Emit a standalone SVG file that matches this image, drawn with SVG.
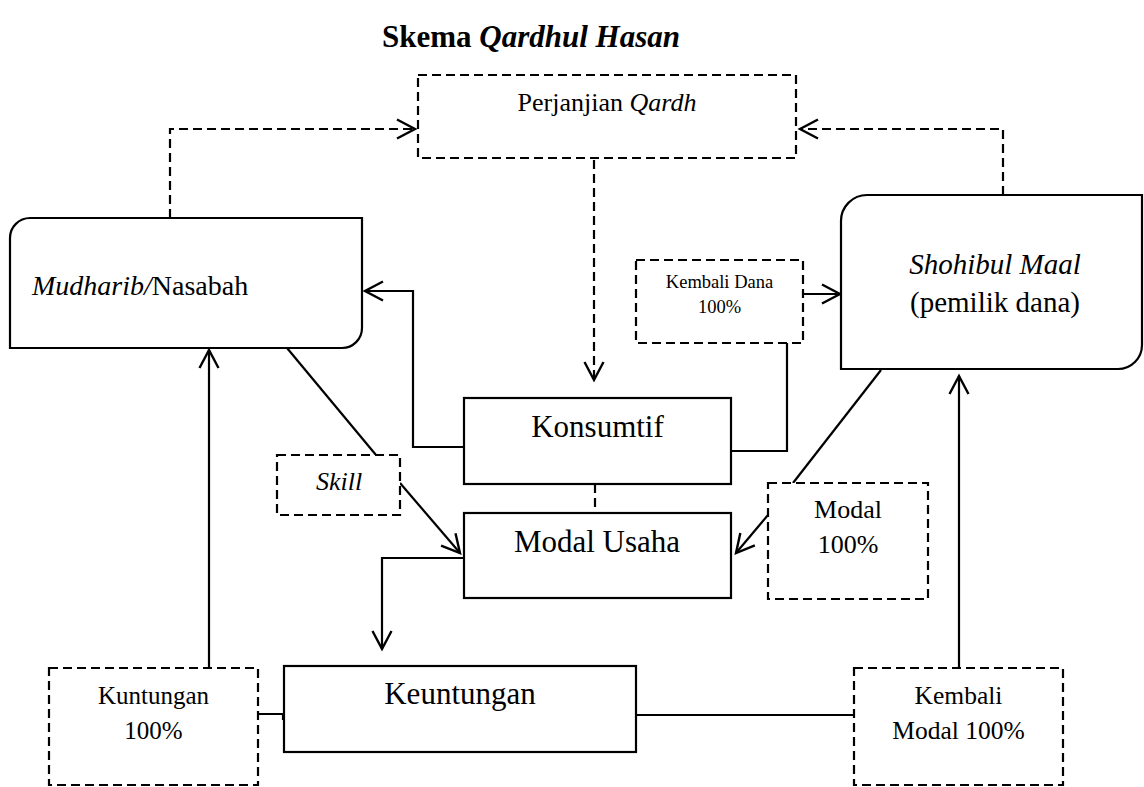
<svg xmlns="http://www.w3.org/2000/svg" width="1144" height="787" viewBox="0 0 1144 787">
<style>
text{font-family:"Liberation Serif","Times New Roman",serif;fill:#000}
.box{fill:#fff;stroke:#000;stroke-width:2.2}
.dbox{fill:#fff;stroke:#000;stroke-width:2.2;stroke-dasharray:9 5}
.ln{fill:none;stroke:#000;stroke-width:2.2}
.dl{fill:none;stroke:#000;stroke-width:2.2;stroke-dasharray:9 5}
.it{font-style:italic}
</style>
<defs>
<marker id="arr" viewBox="-22 -12 26 24" refX="0" refY="0" markerWidth="26" markerHeight="24" markerUnits="userSpaceOnUse" orient="auto">
<path d="M-18,-9.5 L0,0 L-18,9.5" fill="none" stroke="#000" stroke-width="2.4"/>
</marker>
</defs>
<rect width="1144" height="787" fill="#fff"/>
<text x="531" y="47" font-size="31" font-weight="bold" text-anchor="middle">Skema <tspan class="it">Qardhul Hasan</tspan></text>
<g id="connectors">
<path class="dl" d="M170,218 L170,129 L415,129" marker-end="url(#arr)"/>
<path class="dl" d="M1003,195 L1003,129 L800,129" marker-end="url(#arr)"/>
<path class="dl" d="M594,160 L594,380" marker-end="url(#arr)"/>
<path class="dl" d="M595,484 L595,513"/>
<path class="ln" d="M464,447 L413,447 L413,291 L365,291" marker-end="url(#arr)"/>
<path class="ln" d="M731,451 L787,451 L787,343"/>
<path class="ln" d="M803,294 L840,294" marker-end="url(#arr)"/>
<path class="ln" d="M287,348 L376,455"/>
<path class="ln" d="M400,483 L460,553" marker-end="url(#arr)"/>
<path class="ln" d="M881,370 L793,483"/>
<path class="ln" d="M768,515 L736,553" marker-end="url(#arr)"/>
<path class="ln" d="M464,558 L382,558 L382,649" marker-end="url(#arr)"/>
<path class="ln" d="M209,668 L209,350" marker-end="url(#arr)"/>
<path class="ln" d="M959,668 L959,376" marker-end="url(#arr)"/>
<path class="ln" d="M258,714 L283,714 L283,720"/>
<path class="ln" d="M636,715 L854,715"/>
</g>
<g id="perjanjian">
<rect class="dbox" x="418" y="75" width="378" height="83" style="fill:none"/>
<text x="607" y="111" font-size="26" text-anchor="middle">Perjanjian <tspan class="it">Qardh</tspan></text>
</g>
<g id="mudharib">
<path class="box" d="M10,238 A20,20 0 0 1 30,218 L362,218 L362,328 A20,20 0 0 1 342,348 L10,348 Z"/>
<text x="32" y="295" font-size="28"><tspan class="it">Mudharib/</tspan>Nasabah</text>
</g>
<g id="shohibul">
<path class="box" d="M841,221 A26,26 0 0 1 867,195 L1142,195 L1142,345 A24,24 0 0 1 1118,369 L841,369 Z"/>
<text x="995" y="274" font-size="29" text-anchor="middle" class="it">Shohibul Maal</text>
<text x="995" y="312" font-size="29" text-anchor="middle">(pemilik dana)</text>
</g>
<g id="kembali-dana">
<rect class="dbox" x="636" y="260" width="167" height="83"/>
<text x="719.5" y="288" font-size="18.5" text-anchor="middle">Kembali Dana</text>
<text x="719.5" y="313" font-size="18.5" text-anchor="middle">100%</text>
</g>
<g id="konsumtif">
<rect class="box" x="464" y="398" width="267" height="86"/>
<text x="597.5" y="437" font-size="31" text-anchor="middle">Konsumtif</text>
</g>
<g id="skill">
<rect class="dbox" x="277" y="455" width="123" height="60"/>
<text x="339" y="490" font-size="26" text-anchor="middle" class="it">Skill</text>
</g>
<g id="modal-usaha">
<rect class="box" x="464" y="513" width="267" height="85"/>
<text x="597" y="552" font-size="31" text-anchor="middle">Modal Usaha</text>
</g>
<g id="modal">
<rect class="dbox" x="768" y="483" width="160" height="116"/>
<text x="848" y="518" font-size="26" text-anchor="middle">Modal</text>
<text x="848" y="553" font-size="26" text-anchor="middle">100%</text>
</g>
<g id="kuntungan">
<rect class="dbox" x="49" y="668" width="209" height="117"/>
<text x="153.5" y="704" font-size="25" text-anchor="middle">Kuntungan</text>
<text x="153.5" y="739" font-size="25" text-anchor="middle">100%</text>
</g>
<g id="keuntungan">
<rect class="box" x="284" y="666" width="352" height="86"/>
<text x="460" y="704" font-size="31" text-anchor="middle">Keuntungan</text>
</g>
<g id="kembali-modal">
<rect class="dbox" x="854" y="668" width="209" height="117"/>
<text x="958.5" y="704" font-size="25.5" text-anchor="middle">Kembali</text>
<text x="958.5" y="739" font-size="25.5" text-anchor="middle">Modal 100%</text>
</g>
</svg>
